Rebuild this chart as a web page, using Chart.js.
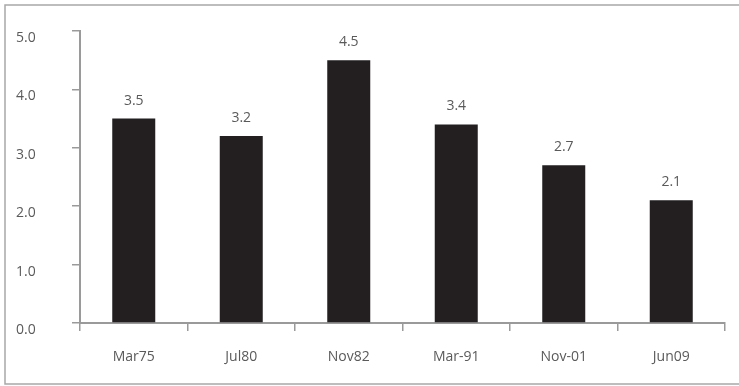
<!DOCTYPE html>
<html>
<head>
<meta charset="utf-8">
<script src="https://cdn.jsdelivr.net/npm/chart.js@4/dist/chart.umd.min.js"></script>
<style>
  html, body { margin: 0; padding: 0; background: #fff; }
  #wrap { position: relative; width: 739px; height: 386px; }
</style>
</head>
<body>
<div id="wrap"><canvas id="barChart" width="739" height="386"></canvas></div>
<script>
// datos del grafico
const categorias = ['Mar75', 'Jul80', 'Nov82', 'Mar-91', 'Nov-01', 'Jun09'];
const valores = [3.5, 3.2, 4.5, 3.4, 2.7, 2.1];
const ticksY = [0, 1, 2, 3, 4, 5];

const colorBarra = '#231f20';
const colorEje = '#9a9a9a';
const colorTexto = '#5a5a5a';
const fuente = { family: "'Open Sans', 'Noto Sans', sans-serif", size: 14 };

// marco gris alrededor
const marcoPlugin = {
    id: 'marco',
    beforeDraw(chart) {
        const c = chart.ctx;
        c.save();
        c.fillStyle = '#fff';
        c.fillRect(0, 0, chart.width, chart.height);
        c.strokeStyle = '#a8a8a8';
        c.lineWidth = 1.5;
        c.beginPath();
        c.moveTo(745, 5);
        c.lineTo(5, 5);
        c.lineTo(5, 384);
        c.lineTo(745, 384);
        c.stroke();
        c.restore();
    }
};

// etiquetas de valor encima de cada barra
const etiquetasPlugin = {
    id: 'etiquetas',
    afterDatasetsDraw(chart) {
        const c = chart.ctx;
        const meta = chart.getDatasetMeta(0);
        c.save();
        c.font = fuente.size + 'px ' + fuente.family;
        c.fillStyle = colorTexto;
        c.textAlign = 'center';
        c.textBaseline = 'middle';
        meta.data.forEach(function (bar, i) {
            c.fillText(valores[i].toFixed(1), bar.x, bar.y - 18);
        });
        c.restore();
    }
};

const ctx = document.getElementById('barChart').getContext('2d');
new Chart(ctx, {
    type: 'bar',
    data: {
        labels: categorias,
        datasets: [{
            data: valores,
            backgroundColor: colorBarra,
            borderWidth: 0,
            barPercentage: 0.4,
            categoryPercentage: 1.0
        }]
    },
    options: {
        responsive: false,
        animation: false,
        layout: { padding: { left: 16, right: 14, top: 31, bottom: 0 } },
        plugins: {
            legend: { display: false },
            title: { display: false },
            tooltip: { enabled: false }
        },
        scales: {
            x: {
                grid: {
                    offset: true,
                    drawOnChartArea: false,
                    drawTicks: true,
                    tickLength: 8,
                    color: colorEje,
                    lineWidth: 1.5
                },
                border: { color: colorEje, width: 2 },
                ticks: { color: colorTexto, font: fuente, padding: 18 },
                afterFit(scale) { scale.height = 386 - 323; }
            },
            y: {
                min: 0,
                max: 5,
                afterBuildTicks(scale) {
                    scale.ticks = ticksY.map(v => ({ value: v }));
                },
                grid: {
                    drawOnChartArea: false,
                    drawTicks: true,
                    tickLength: 8,
                    color: colorEje,
                    lineWidth: 1.5
                },
                border: { color: colorEje, width: 2 },
                ticks: {
                    color: colorTexto,
                    font: fuente,
                    padding: 6,
                    crossAlign: 'far',
                    labelOffset: 7,
                    callback: v => Number(v).toFixed(1)
                },
                afterFit(scale) { scale.width = 64; }
            }
        }
    },
    plugins: [marcoPlugin, etiquetasPlugin]
});
</script>
</body>
</html>
